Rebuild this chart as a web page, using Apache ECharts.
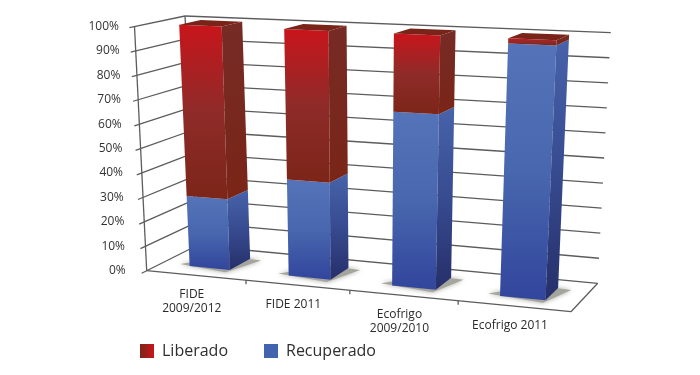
<!DOCTYPE html>
<html>
<head>
<meta charset="utf-8">
<style>
    html, body { margin: 0; padding: 0; background: #fff; }
    #chart { width: 700px; height: 375px; }
</style>
<script src="https://cdn.jsdelivr.net/npm/echarts@6/dist/echarts.min.js"></script>
</head>
<body>
<div id="chart"></div>
<script>
const categories = ['FIDE\n2009/2012', 'FIDE 2011', 'Ecofrigo\n2009/2010', 'Ecofrigo 2011']
const recuperado = [29, 39, 69, 98]
const liberado = [71, 61, 31, 2]
const tickValues = [0, 10, 20, 30, 40, 50, 60, 70, 80, 90, 100]
const tickLabels = ['0%', '10%', '20%', '30%', '40%', '50%', '60%', '70%', '80%', '90%', '100%']

const font = '"Open Sans", "Noto Sans", sans-serif'
const lineColor = '#5c5c5c'
const grid = { left: 100, top: 20, width: 400, height: 250 }

// corners of the 3D box as seen in the picture: floor and top plane
const floor = { fl: [146.7, 270.7], fr: [571, 311.7], bl: [197, 245.5], br: [597.7, 283.3] }
const ceil = { fl: [134.5, 26.5], fr: [584, 45.5], bl: [185, 16], br: [610.7, 32.7] }

const mix = (a, b, t) => [a[0] + (b[0] - a[0]) * t, a[1] + (b[1] - a[1]) * t]
const plane = (q, w, d) => mix(mix(q.fl, q.fr, w), mix(q.bl, q.br, w), d)

// u: along the categories, d: depth (0 front, 1 back), v: height
const project = (u, d, v) => {
    const w = u * (1 - 0.085 * (1 - u))
    return mix(plane(floor, w, d), plane(ceil, w, d), v)
}
// pixel from the hidden cartesian grid -> box fractions
const toBox = (pt) => [(pt[0] - grid.left) / grid.width, 1 - (pt[1] - grid.top) / grid.height]

const line = (a, b, width) => ({
    type: 'line',
    shape: { x1: a[0], y1: a[1], x2: b[0], y2: b[1] },
    style: { stroke: lineColor, lineWidth: width || 1.3 }
})
const poly = (points, fill, extra) => ({
    type: 'polygon',
    shape: { points },
    style: Object.assign({ fill }, extra)
})
const vGrad = (stops) => new echarts.graphic.LinearGradient(0, 0, 0, 1,
    stops.map((c, i) => ({ offset: i / (stops.length - 1), color: c })))

const frontRed = ['#c8151b', '#8e2b29', '#7c2518']
const sideRed = ['#762b25', '#7a2517']
const frontBlue = ['#5573b8', '#4867ae', '#32459c']
const sideBlue = ['#4763aa', '#374b90', '#262f6a']

const barDepth = [0.29, 0.73]
const barHalf = 0.205

const renderBar = (front, side, topFill) => (params, api) => {
    const i = api.value(0)
    const lo = toBox(api.coord([i, api.value(1)]))[1]
    const hi = toBox(api.coord([i, api.value(1) + api.value(2)]))[1]
    const u = toBox(api.coord([i, 0]))[0]
    const half = api.size([1, 0])[0] / grid.width * barHalf
    const u0 = u - half, u1 = u + half
    const [d0, d1] = barDepth
    const children = [
        poly([project(u0, d0, lo), project(u1, d0, lo), project(u1, d0, hi), project(u0, d0, hi)], vGrad(front)),
        poly([project(u1, d0, lo), project(u1, d1, lo), project(u1, d1, hi), project(u1, d0, hi)], vGrad(side))
    ]
    if (topFill) {
        children.push(poly([project(u0, d0, hi), project(u1, d0, hi), project(u1, d1, hi), project(u0, d1, hi)], topFill))
    }
    return { type: 'group', children }
}

const option = {
    animation: false,
    backgroundColor: '#fff',
    grid,
    xAxis: { type: 'category', data: categories, show: false },
    yAxis: { type: 'value', min: 0, max: 100, interval: 10, show: false },
    legend: {
        left: 135,
        top: 338,
        itemWidth: 14,
        itemHeight: 14,
        itemGap: 36,
        icon: 'rect',
        textStyle: { fontFamily: font, fontSize: 16, color: '#2e2e2e', padding: [0, 0, 0, 3] },
        data: [
            {
                name: 'Liberado',
                itemStyle: { color: new echarts.graphic.LinearGradient(0, 0, 1, 0, [
                    { offset: 0, color: '#7c2518' }, { offset: 1, color: '#c8151b' }
                ]) }
            },
            { name: 'Recuperado', itemStyle: { color: '#4263ad' } }
        ]
    },
    series: [
        {
            // walls and floor
            type: 'custom',
            silent: true,
            data: [[0, 0]],
            renderItem: () => ({
                type: 'group',
                children: [
                    line(project(0, 0, 0), project(0, 0, 1)),
                    line(project(0, 1, 0), project(0, 1, 1)),
                    line(project(0, 0, 0), project(1, 0, 0)),
                    line(project(1, 0, 0), project(1, 1, 0))
                ]
            })
        },
        {
            // value ticks: gridlines on both walls and the % labels
            type: 'custom',
            silent: true,
            data: tickValues.map(v => [0, v]),
            renderItem: (params, api) => {
                const v = toBox(api.coord([0, api.value(1)]))[1]
                const p = project(0, 0, v)
                return {
                    type: 'group',
                    children: [
                        line(project(0, -0.1, v), project(0, 1, v)),
                        line(project(0, 1, v), project(1, 1, v)),
                        {
                            type: 'text',
                            style: {
                                x: p[0] - (21 - 5.5 * v),
                                y: p[1],
                                text: tickLabels[params.dataIndex],
                                align: 'right',
                                verticalAlign: 'middle',
                                font: '12px ' + font,
                                fill: '#333'
                            }
                        }
                    ]
                }
            }
        },
        {
            // category labels and the ticks between them
            type: 'custom',
            silent: true,
            data: categories.map((c, i) => [i, 0]),
            renderItem: (params, api) => {
                const i = params.dataIndex
                const pt = api.coord([i, 0])
                const band = api.size([1, 0])[0]
                const p = project(toBox(pt)[0], 0, 0)
                const children = [{
                    type: 'text',
                    style: {
                        x: p[0] - 4,
                        y: p[1] + 12.5,
                        text: categories[i],
                        align: 'center',
                        verticalAlign: 'top',
                        lineHeight: 14,
                        font: '12px ' + font,
                        fill: '#2a2a2a'
                    }
                }]
                if (i < categories.length - 1) {
                    const t = project(toBox([pt[0] + band / 2, pt[1]])[0], 0, 0)
                    children.push(line(t, [t[0], t[1] + 4]))
                }
                return { type: 'group', children }
            }
        },
        {
            // soft shadow under each bar
            type: 'custom',
            silent: true,
            data: categories.map((c, i) => [i, 0]),
            renderItem: (params, api) => {
                const u = toBox(api.coord([api.value(0), 0]))[0]
                const half = api.size([1, 0])[0] / grid.width * barHalf
                const a = u - half - 0.03, b = u + half + 0.032
                return poly(
                    [project(a, 0.33, 0), project(u + half, 0.2, 0), project(b, 0.7, 0), project(u, 0.73, 0)],
                    '#a5a59e',
                    { shadowBlur: 5, shadowColor: '#a5a59e' }
                )
            }
        },
        {
            name: 'Recuperado',
            type: 'custom',
            silent: true,
            data: recuperado.map((v, i) => [i, 0, v]),
            renderItem: renderBar(frontBlue, sideBlue, null)
        },
        {
            name: 'Liberado',
            type: 'custom',
            silent: true,
            data: liberado.map((v, i) => [i, recuperado[i], v]),
            renderItem: renderBar(frontRed, sideRed, '#7a2419')
        }
    ]
}

const myChart = echarts.init(document.getElementById('chart'))
myChart.setOption(option)
</script>
</body>
</html>
